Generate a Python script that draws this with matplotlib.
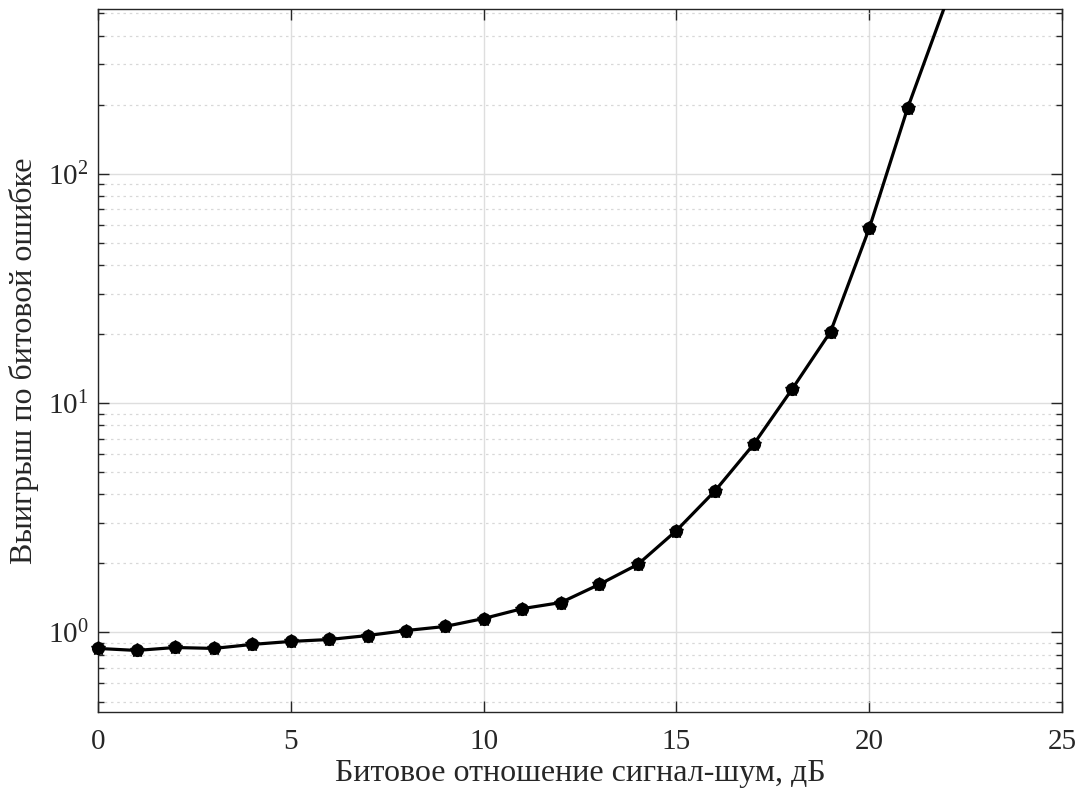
import numpy as np
import matplotlib
matplotlib.use("Agg")
import matplotlib.pyplot as plt
from matplotlib.ticker import LogLocator, NullFormatter, MultipleLocator

# Bit SNR, dB
snr_db = [0, 1, 2, 3, 4, 5, 6, 7, 8, 9, 10, 11, 12, 13, 14, 15, 16, 17, 18, 19, 20, 21, 22]
# BER gain
gain = [0.852, 0.835, 0.86, 0.852, 0.887, 0.914, 0.932, 0.97, 1.02, 1.062, 1.15, 1.27,
        1.35, 1.62, 1.98, 2.78, 4.14, 6.6, 11.5, 20.5, 57.7, 194.0, 560.0]

xlabel = "Битовое отношение сигнал-шум, дБ"
ylabel = "Выигрыш по битовой ошибке"

plt.rcParams["font.family"] = ["Liberation Serif", "DejaVu Serif"]
plt.rcParams["mathtext.fontset"] = "custom"
plt.rcParams["mathtext.rm"] = "Liberation Serif"

axc = "#262626"
fig = plt.figure(figsize=(10.85, 7.96), dpi=100)
ax = fig.add_axes([0.0903, 0.1055, 0.8885, 0.8838])

ymin, ymax = 0.45, 525
ax.set_yscale("log")
ax.set_xlim(0, 25)
ax.set_ylim(ymin, ymax)

ax.plot(snr_db, gain, color="black", lw=2.3, zorder=3)
x = np.array(snr_db)
y = np.array(gain)
vis = (y >= ymin) & (y <= ymax)
ax.plot(x[vis], y[vis], ls="none", marker="o", ms=8.5, color="black", clip_on=False, zorder=4)
ax.plot(x[vis], y[vis], ls="none", marker="*", ms=10, color="black", clip_on=False, zorder=4)

ax.xaxis.set_major_locator(MultipleLocator(5))
ax.yaxis.set_major_locator(LogLocator(base=10, numticks=10))
ax.yaxis.set_minor_locator(LogLocator(base=10, subs=np.arange(2, 10), numticks=10))
ax.yaxis.set_minor_formatter(NullFormatter())

ax.grid(True, which="major", color="#dedede", lw=1.0, ls="-")
ax.grid(True, which="minor", axis="y", color="#d8d8d8", lw=0.9, ls=(0, (2, 3)))
ax.set_axisbelow(True)

ax.tick_params(which="both", direction="in", top=True, right=True, colors=axc)
ax.tick_params(axis="x", labelsize=21, pad=12)
ax.tick_params(axis="y", labelsize=21, pad=7)
ax.tick_params(which="major", length=8, width=1.0)
ax.tick_params(which="minor", length=4, width=1.0)
for s in ax.spines.values():
    s.set_color(axc)
    s.set_linewidth(1.0)

ax.set_xlabel(xlabel, fontsize=23, color=axc, labelpad=3)
ax.set_ylabel(ylabel, fontsize=23, color=axc, labelpad=6)

fig.savefig("out.png", dpi=100)
